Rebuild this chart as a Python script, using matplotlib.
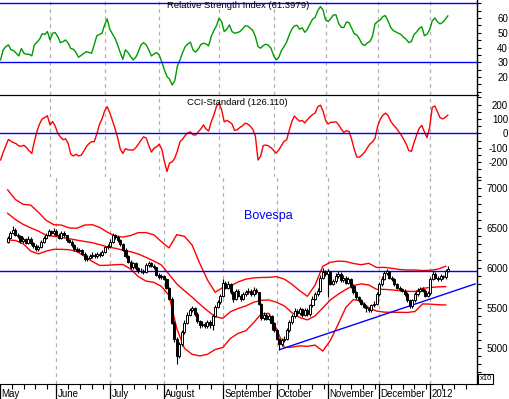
import numpy as np
import matplotlib.pyplot as plt
from matplotlib.transforms import blended_transform_factory

plt.rcParams['font.family'] = ['Liberation Sans', 'DejaVu Sans']

# Bovespa daily bars (x10), first bar is 19 trading days before June 1st 2011
first_day = -19
close = [6380, 6440, 6480, 6420, 6400, 6340, 6360, 6320, 6370, 6310,
         6280, 6240, 6260, 6330, 6380, 6420, 6460, 6440, 6470, 6420,
         6380, 6440, 6410, 6350, 6330, 6290, 6240, 6220, 6230, 6180,
         6110, 6130, 6150, 6170, 6150, 6180, 6160, 6200, 6260, 6280,
         6330, 6410, 6390, 6350, 6300, 6230, 6150, 6080, 6010, 6060,
         6000, 5960, 5970, 5950, 6040, 6060, 6030, 6010, 5920, 5890,
         5900, 5870, 5760, 5620, 5320, 5120, 4900, 5050, 5200, 5320,
         5420, 5480, 5500, 5430, 5340, 5290, 5310, 5280, 5330, 5290,
         5410, 5520, 5580, 5650, 5820, 5760, 5800, 5700, 5620, 5720,
         5660, 5620, 5680, 5700, 5720, 5680, 5730, 5700, 5560, 5380,
         5420, 5370, 5400, 5320, 5230, 5120, 5050, 5100, 5120, 5230,
         5330, 5400, 5470, 5440, 5490, 5420, 5480, 5430, 5540, 5620,
         5680, 5720, 5880, 5950, 5930, 5960, 5810, 5840, 5900, 5930,
         5850, 5880, 5820, 5860, 5780, 5700, 5640, 5600, 5560, 5520,
         5500, 5480, 5540, 5560, 5680, 5800, 5870, 5940, 5960, 5880,
         5860, 5800, 5760, 5740, 5720, 5680, 5600, 5530, 5600, 5680,
         5720, 5740, 5720, 5660, 5690, 5870, 5930, 5880, 5860, 5900,
         5890, 5960, 5990]
opens = [6330, 6380, 6440, 6480, 6420, 6400, 6340, 6360, 6320, 6370,
         6310, 6280, 6240, 6260, 6330, 6380, 6420, 6460, 6440, 6470,
         6420, 6380, 6440, 6410, 6350, 6330, 6290, 6240, 6220, 6230,
         6180, 6110, 6130, 6150, 6170, 6150, 6180, 6160, 6200, 6260,
         6280, 6330, 6410, 6390, 6350, 6300, 6230, 6150, 6080, 6010,
         6060, 6000, 5960, 5970, 5950, 6040, 6060, 6030, 6010, 5920,
         5890, 5900, 5870, 5760, 5620, 5320, 5120, 4900, 5050, 5200,
         5320, 5420, 5480, 5500, 5430, 5340, 5290, 5310, 5280, 5330,
         5290, 5410, 5520, 5580, 5650, 5820, 5760, 5800, 5700, 5620,
         5720, 5660, 5620, 5680, 5700, 5720, 5680, 5730, 5700, 5560,
         5380, 5420, 5370, 5400, 5320, 5230, 5120, 5050, 5100, 5120,
         5230, 5330, 5400, 5470, 5440, 5490, 5420, 5480, 5430, 5540,
         5620, 5680, 5720, 5880, 5950, 5930, 5960, 5810, 5840, 5900,
         5930, 5850, 5880, 5820, 5860, 5780, 5700, 5640, 5600, 5560,
         5520, 5500, 5480, 5540, 5560, 5680, 5800, 5870, 5940, 5960,
         5880, 5860, 5800, 5760, 5740, 5720, 5680, 5600, 5530, 5600,
         5680, 5720, 5740, 5720, 5660, 5690, 5870, 5930, 5880, 5860,
         5900, 5890, 5960]
high = [6400, 6470, 6530, 6500, 6440, 6420, 6390, 6380, 6400, 6390,
        6330, 6300, 6290, 6350, 6400, 6440, 6490, 6480, 6500, 6490,
        6440, 6460, 6460, 6420, 6370, 6350, 6300, 6260, 6250, 6240,
        6200, 6160, 6180, 6200, 6190, 6200, 6200, 6230, 6280, 6300,
        6360, 6440, 6430, 6410, 6370, 6310, 6250, 6170, 6100, 6080,
        6080, 6020, 6000, 5990, 6070, 6090, 6080, 6050, 6020, 5940,
        5930, 5920, 5880, 5770, 5640, 5340, 5140, 5080, 5230, 5350,
        5450, 5510, 5530, 5520, 5450, 5360, 5340, 5330, 5360, 5350,
        5430, 5540, 5610, 5680, 5870, 5840, 5840, 5820, 5720, 5740,
        5740, 5680, 5710, 5730, 5750, 5740, 5770, 5750, 5710, 5570,
        5450, 5440, 5430, 5420, 5330, 5240, 5130, 5130, 5150, 5250,
        5350, 5430, 5500, 5490, 5520, 5510, 5510, 5500, 5560, 5650,
        5710, 5750, 5910, 6000, 5980, 5990, 5970, 5870, 5940, 5960,
        5950, 5910, 5900, 5890, 5880, 5800, 5720, 5660, 5620, 5580,
        5540, 5520, 5560, 5590, 5700, 5830, 5900, 5970, 5990, 5970,
        5900, 5880, 5820, 5780, 5760, 5740, 5700, 5620, 5620, 5700,
        5750, 5770, 5770, 5740, 5720, 5890, 5960, 5950, 5900, 5930,
        5920, 5990, 6030]
low = [6310, 6370, 6430, 6400, 6380, 6320, 6320, 6300, 6300, 6290,
       6250, 6210, 6220, 6250, 6310, 6360, 6400, 6420, 6420, 6400,
       6360, 6370, 6390, 6330, 6310, 6270, 6220, 6200, 6200, 6160,
       6090, 6090, 6110, 6130, 6130, 6130, 6140, 6150, 6190, 6240,
       6270, 6320, 6370, 6330, 6280, 6210, 6130, 6060, 5990, 5990,
       5980, 5940, 5940, 5930, 5940, 6020, 6010, 5990, 5900, 5870,
       5870, 5850, 5740, 5600, 5300, 5080, 4800, 4880, 5030, 5180,
       5300, 5400, 5450, 5400, 5320, 5250, 5270, 5260, 5260, 5260,
       5230, 5390, 5500, 5560, 5640, 5740, 5740, 5680, 5580, 5600,
       5640, 5590, 5600, 5660, 5680, 5660, 5660, 5680, 5540, 5360,
       5360, 5350, 5350, 5230, 5210, 5100, 4980, 5030, 5080, 5100,
       5210, 5310, 5380, 5400, 5420, 5390, 5400, 5410, 5410, 5520,
       5600, 5660, 5700, 5860, 5900, 5640, 5790, 5790, 5820, 5880,
       5830, 5830, 5800, 5800, 5760, 5680, 5620, 5580, 5540, 5500,
       5460, 5460, 5460, 5520, 5540, 5660, 5780, 5850, 5920, 5860,
       5840, 5780, 5740, 5720, 5700, 5660, 5580, 5510, 5510, 5580,
       5660, 5700, 5700, 5640, 5640, 5670, 5850, 5860, 5840, 5840,
       5870, 5870, 5950]

rsi = [31.6, 38.4, 40.6, 41.8, 38.4, 37.9, 36.1, 34.3, 39.3, 36.1,
       35.4, 35.4, 34.3, 41.8, 43.6, 45.6, 49.4, 48.8, 50.8, 45.1,
       49.7, 50.1, 47.4, 43.3, 44.0, 45.1, 42.9, 39.3, 38.8, 36.6,
       33.4, 34.7, 35.9, 37.2, 36.6, 36.1, 41.8, 47.9, 48.8, 49.7,
       55.3, 59.4, 52.4, 49.2, 46.3, 41.8, 36.6, 32.0, 38.4, 36.6,
       33.8, 31.6, 33.4, 37.2, 41.8, 43.3, 41.8, 38.4, 34.3, 35.6,
       36.6, 35.0, 30.2, 24.8, 20.3, 18.5, 14.6, 17.6, 27.5, 31.6,
       36.6, 40.6, 42.4, 43.6, 38.4, 36.8, 38.8, 42.0, 42.9, 42.4,
       41.1, 47.4, 51.5, 54.6, 59.8, 57.6, 50.8, 52.4, 55.3, 50.8,
       49.7, 50.1, 50.8, 52.4, 54.6, 54.6, 53.1, 51.5, 47.4, 40.6,
       39.5, 41.3, 42.2, 41.5, 39.5, 34.5, 31.6, 33.4, 37.9, 40.6,
       43.6, 48.5, 52.4, 54.6, 55.1, 52.4, 53.3, 50.3, 52.4, 56.0,
       59.2, 60.5, 65.0, 67.7, 65.5, 58.7, 57.6, 59.6, 62.1, 62.1,
       56.4, 53.7, 53.5, 57.3, 56.9, 53.1, 49.4, 48.5, 45.8, 42.4,
       41.3, 43.1, 44.0, 47.4, 56.0, 57.6, 58.7, 61.0, 61.6, 58.0,
       53.7, 51.5, 50.6, 49.7, 48.8, 46.9, 45.6, 43.3, 44.0, 48.8,
       50.5, 53.0, 54.0, 48.0, 49.0, 52.0, 58.0, 60.0, 57.5, 56.0,
       57.0, 59.0, 61.4]

cci = [-185, -132, -87, -42, -55, -65, -72, -88, -89, -83,
       -100, -122, -140, -55, 15, 66, 100, 110, 122, 58,
       82, 50, 0, -25, -44, -38, -70, -145, -157, -145,
       -157, -152, -123, -92, -71, -58, -58, -5, 60, 100,
       155, 185, 143, 90, 35, -30, -107, -140, -107, -114,
       -116, -116, -99, -75, -48, -24, -33, -85, -130, -103,
       -93, -75, -110, -195, -265, -205, -198, -172, -122, -58,
       -40, -15, 4, 10, -10, -12, 10, 30, 58, 30,
       16, 80, 125, 185, 209, 165, 80, 90, 80, 65,
       20, 25, 40, 52, 70, 65, 50, 28, -20, -185,
       -160, -85, -81, -87, -100, -118, -137, -115, -85, -56,
       -46, 20, 81, 120, 100, 84, 90, 72, 95, 115,
       130, 142, 185, 195, 155, 90, 65, 77, 77, 80,
       60, 30, 7, 18, 14, -40, -110, -165, -165, -150,
       -131, -102, -75, -60, -35, 48, 98, 125, 140, 125,
       85, 60, 40, 15, -10, -40, -75, -120, -125, -65,
       -12, 35, 55, 10, -30, 40, 180, 190, 150, 110,
       100, 110, 126]

# Bollinger bands read every 3 trading days
band_day = [-19, -16, -13, -10, -7, -4, -1, 2, 5, 8, 11, 14, 17, 20, 23, 26, 29, 32, 35, 38,
            41, 44, 47, 50, 53, 56, 59, 62, 65, 68, 71, 74, 77, 80, 83, 86, 89, 92, 95, 98,
            101, 104, 107, 110, 113, 116, 119, 122, 125, 128, 131, 134, 137, 140, 143, 146, 149, 152]
band_up = [6980, 6860, 6800, 6790, 6700, 6600, 6545, 6540, 6505, 6500, 6540, 6545, 6510, 6450,
           6400, 6390, 6410, 6446, 6446, 6420, 6333, 6255, 6420, 6400, 6290, 6060, 5855, 5700,
           5760, 5780, 5830, 5865, 5880, 5885, 5887, 5895, 5865, 5800, 5720, 5650, 5790, 6025,
           6075, 6090, 6085, 6060, 6045, 6062, 6010, 6012, 6000, 5985, 5979, 5979, 5972, 5975,
           5990, 6025]
band_mid = [6687, 6610, 6550, 6505, 6465, 6412, 6400, 6385, 6370, 6352, 6336, 6320, 6295, 6267,
            6250, 6227, 6207, 6179, 6136, 6092, 6042, 5925, 5805, 5720, 5640, 5552, 5470, 5395,
            5375, 5458, 5498, 5530, 5575, 5600, 5604, 5575, 5530, 5445, 5385, 5355, 5405, 5505,
            5605, 5675, 5735, 5785, 5805, 5792, 5737, 5737, 5730, 5721, 5713, 5710, 5750, 5760,
            5768, 5771]
band_low = [6354, 6348, 6308, 6215, 6180, 6215, 6237, 6237, 6232, 6210, 6150, 6085, 6035, 6038,
            6045, 6048, 5990, 5896, 5840, 5825, 5775, 5660, 5250, 5000, 4925, 4905, 4925, 4985,
            5010, 5125, 5187, 5220, 5320, 5430, 5437, 5240, 5010, 5015, 5030, 5025, 5040, 4965,
            5100, 5300, 5510, 5610, 5590, 5505, 5466, 5452, 5450, 5450, 5448, 5460, 5555, 5552,
            5545, 5541]

resistance = 5970
trend_day = [87.2, 163.5]
trend_val = [4984, 5805]

month_start = [-22, 0, 21, 42, 65, 86, 106, 126, 146]
month_name = ['May', 'June', 'July', 'August', 'September', 'October',
              'November', 'December', '2012']

days = np.arange(first_day, first_day + len(close))
close = np.array(close)
opens = np.array(opens)
x_min, x_max = -19.23, 164.42

W, H = 510, 399
fig = plt.figure(figsize=(W / 100, H / 100), dpi=100)
right = 477.5 / W
ax_rsi = fig.add_axes([0, 1 - 95 / H, right, 95 / H])
ax_cci = fig.add_axes([0, 1 - 177 / H, right, 82 / H])
ax_px = fig.add_axes([0, 1 - 384 / H, right, 207 / H])

grid_col = '#b0b0b0'
for ax in (ax_rsi, ax_cci, ax_px):
    ax.patch.set_visible(False)
    ax.set_xlim(x_min, x_max)
    ax.spines['left'].set_visible(False)
    ax.spines['top'].set_visible(False)
    ax.spines['bottom'].set_visible(False)
    ax.spines['right'].set_linewidth(1)
    ax.yaxis.tick_right()
    ax.tick_params(axis='y', which='both', direction='out', length=3, width=0.8,
                   labelsize=7, pad=19)
    for m in month_start[1:]:
        ax.axvline(m, color=grid_col, lw=0.9, ls=(0, (3, 3)), zorder=0)

# black separator between RSI and CCI, and the bottom time axis
ax_rsi.spines['bottom'].set_visible(True)
ax_cci.spines['top'].set_visible(True)
ax_px.spines['bottom'].set_visible(True)
ax_rsi.set_xticks([])
ax_cci.set_xticks([])

# RSI panel
ax_rsi.plot(days, rsi, color='#009a00', lw=1)
ax_rsi.axhline(30, color='#0000ff', lw=1)
ax_rsi.axhline(70, color='#0000ff', lw=1)
ax_rsi.set_ylim(7.8, 72.2)
ax_rsi.set_yticks([20, 30, 40, 50, 60])
ax_rsi.set_yticklabels(['20', '30', '40', '50', '60'])
ax_rsi.set_yticks(np.arange(10, 71, 5), minor=True)
ax_rsi.text(0.498, 0.985, 'Relative Strength Index (61.3979)', transform=ax_rsi.transAxes,
            ha='center', va='top', fontsize=6.8)

# CCI panel
ax_cci.plot(days, cci, color='#ff0000', lw=1)
ax_cci.axhline(0, color='#0000ff', lw=1)
ax_cci.set_ylim(-303, 266)
ax_cci.set_yticks([-200, -100, 0, 100, 200])
ax_cci.set_yticklabels(['-200', '-100', '0', '100', '200'])
ax_cci.set_yticks(np.arange(-300, 251, 50), minor=True)
ax_cci.text(0.498, 0.965, 'CCI-Standard (126.110)', transform=ax_cci.transAxes,
            ha='center', va='top', fontsize=6.8)

# price panel
ax_px.set_ylim(4554, 7141)
ax_px.plot(band_day, band_up, color='#ff0000', lw=1, zorder=2)
ax_px.plot(band_day, band_mid, color='#ff0000', lw=1, zorder=2)
ax_px.plot(band_day, band_low, color='#ff0000', lw=1, zorder=2)
ax_px.axhline(resistance, color='#0000ff', lw=1, zorder=3)
ax_px.plot(trend_day, trend_val, color='#0000ff', lw=1, zorder=3)

up = close >= opens
ax_px.vlines(days, low, high, color='black', lw=0.8, zorder=4)
ax_px.bar(days[up], (close - opens)[up], bottom=opens[up], width=0.8,
          facecolor='white', edgecolor='black', lw=0.7, zorder=5)
ax_px.bar(days[~up], (close - opens)[~up], bottom=opens[~up], width=0.8,
          facecolor='black', edgecolor='black', lw=0.7, zorder=5)

ax_px.text(0.511, 0.812, 'Bovespa', transform=ax_px.transAxes, color='#0000ff',
           fontsize=9, ha='left', va='center')

ax_px.set_yticks([5000, 5500, 6000, 6500, 7000])
ax_px.set_yticklabels(['5000', '5500', '6000', '6500', '7000'])
ax_px.set_yticks(np.arange(4600, 7101, 100), minor=True)

for ax in (ax_rsi, ax_cci, ax_px):
    for t in ax.yaxis.get_major_ticks():
        t.label2.set_horizontalalignment('right')

# weekly ticks restart after every month separator
week_ticks = []
bounds = month_start + [x_max]
for m, nxt in zip(bounds[:-1], bounds[1:]):
    for k in range(1, 6):
        t = m + k * 4.6
        if t < nxt - 1.5 and x_min < t < x_max:
            week_ticks.append(t)

ax_px.set_xticks(month_start)
ax_px.set_xticklabels([])
ax_px.set_xticks(week_ticks, minor=True)
ax_px.tick_params(axis='x', which='major', direction='out', length=12, width=0.9)
ax_px.tick_params(axis='x', which='minor', direction='out', length=3.5, width=0.8)
trans = blended_transform_factory(ax_px.transData, ax_px.transAxes)
for m, name in zip(month_start, month_name):
    ax_px.text(m + 0.5, -0.024, name, transform=trans, fontsize=7,
               ha='left', va='top', clip_on=False)

fig.text(479.5 / W, 1 - 379 / H, 'x10', fontsize=5.5, ha='left', va='center',
         bbox=dict(boxstyle='square,pad=0.2', fc='white', ec='black', lw=0.8))

fig.savefig('out.png', dpi=100)
